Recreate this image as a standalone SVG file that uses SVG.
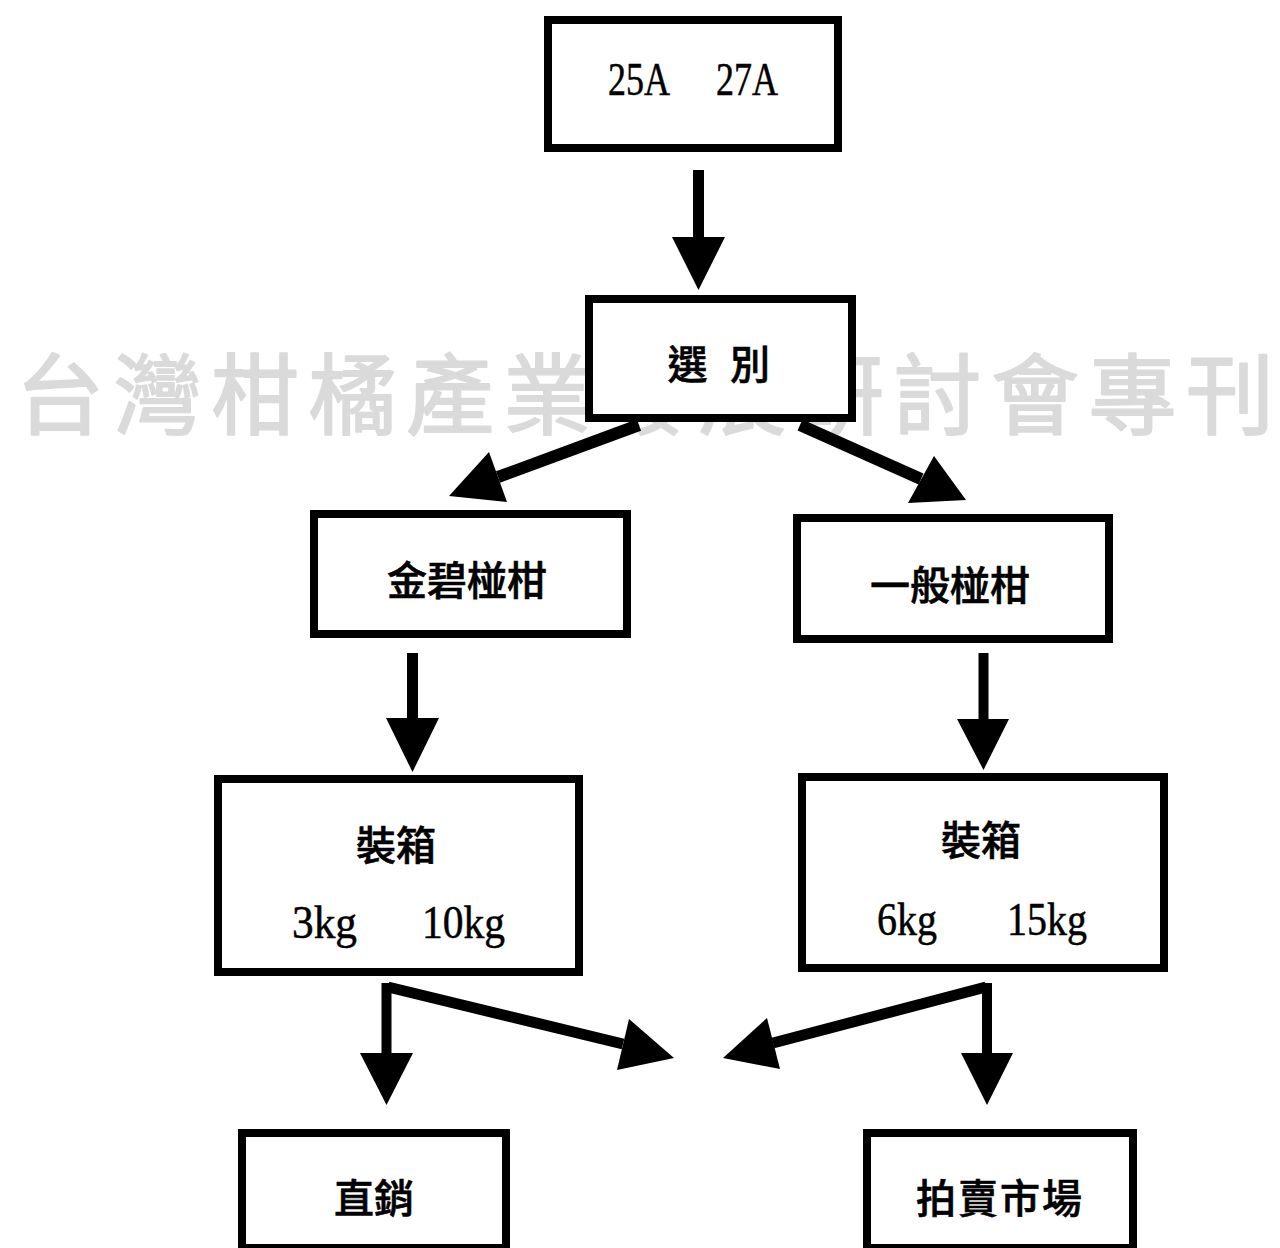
<svg xmlns="http://www.w3.org/2000/svg" width="1280" height="1248" viewBox="0 0 1280 1248">
<style>
.box{fill:#ffffff;stroke:#000000;stroke-width:8}
.cjk{font-family:"Noto Sans CJK TC","Noto Sans CJK SC",sans-serif;font-weight:500;font-size:40px;fill:#000;stroke:#000;stroke-width:0.6;text-anchor:middle;dominant-baseline:central}
.num{font-family:"Liberation Serif",serif;font-size:46px;fill:#000;stroke:#000;stroke-width:0.5}
.shaft{stroke:#000;fill:none;stroke-linecap:butt}
.head{fill:#000;stroke:none}
.wm{font-family:"Noto Sans CJK TC","Noto Sans CJK SC",sans-serif;font-size:88px;fill:#dadada;stroke:#dadada;stroke-width:2;stroke-linejoin:round;dominant-baseline:central}
</style>
<rect width="1280" height="1248" fill="#ffffff"/>
<g id="watermark">
<text class="wm" y="388" x="16 113.5 211 308.5 406 503.5 601 698.5 796 893.5 991 1088.5 1186">台灣柑橘產業發展研討會專刊</text>
</g>
<g id="connectors">
<line class="shaft" x1="698.5" y1="170" x2="698.5" y2="240" stroke-width="11"/>
<polygon class="head" points="672,237 725,237 698.5,290"/>
<line class="shaft" x1="639" y1="425" x2="498" y2="477" stroke-width="12"/>
<polygon class="head" points="489,452 507,502 449,496"/>
<line class="shaft" x1="800" y1="425" x2="921" y2="479" stroke-width="12"/>
<polygon class="head" points="934,456 908,503 966,500"/>
<line class="shaft" x1="412.5" y1="653" x2="412.5" y2="720" stroke-width="11"/>
<polygon class="head" points="386,718 439,718 412.5,772"/>
<line class="shaft" x1="983.5" y1="653" x2="983.5" y2="721" stroke-width="10"/>
<polygon class="head" points="957,719 1009,719 983.5,770"/>
<line class="shaft" x1="386.5" y1="983" x2="386.5" y2="1055" stroke-width="10"/>
<line class="shaft" x1="388" y1="987" x2="623" y2="1044" stroke-width="11"/>
<polygon class="head" points="360,1053 413,1053 386.5,1105"/>
<polygon class="head" points="629,1019 674,1058 617,1070"/>
<line class="shaft" x1="987" y1="983" x2="987" y2="1055" stroke-width="10"/>
<line class="shaft" x1="986" y1="987" x2="773" y2="1043" stroke-width="11"/>
<polygon class="head" points="961,1053 1013,1053 987,1105"/>
<polygon class="head" points="767,1018 723,1058 780,1069"/>
</g>
<g id="node-source">
<rect class="box" x="548" y="20" width="290" height="128"/>
<text class="num" x="608" y="95" font-size="47" textLength="62" lengthAdjust="spacingAndGlyphs">25A</text>
<text class="num" x="716" y="95" font-size="47" textLength="62" lengthAdjust="spacingAndGlyphs">27A</text>
</g>
<g id="node-sort">
<rect class="box" x="589" y="299" width="263" height="119"/>
<text class="cjk" x="687.5" y="362">選</text>
<text class="cjk" x="750" y="362">別</text>
</g>
<g id="node-jinbi">
<rect class="box" x="314" y="514" width="313" height="120"/>
<text class="cjk" x="467" y="578">金碧椪柑</text>
</g>
<g id="node-general">
<rect class="box" x="797" y="518" width="312" height="121"/>
<text class="cjk" x="950" y="583">一般椪柑</text>
</g>
<g id="node-pack-left">
<rect class="box" x="218" y="779" width="361" height="193"/>
<text class="cjk" x="396" y="843" font-size="38">裝箱</text>
<text class="num" x="292" y="938" textLength="65" lengthAdjust="spacingAndGlyphs">3kg</text>
<text class="num" x="422" y="938" textLength="83" lengthAdjust="spacingAndGlyphs">10kg</text>
</g>
<g id="node-pack-right">
<rect class="box" x="802" y="777" width="362" height="191"/>
<text class="cjk" x="981" y="838" font-size="38">裝箱</text>
<text class="num" x="877" y="935" textLength="60" lengthAdjust="spacingAndGlyphs">6kg</text>
<text class="num" x="1007" y="935" textLength="80" lengthAdjust="spacingAndGlyphs">15kg</text>
</g>
<g id="node-direct">
<rect class="box" x="242" y="1133" width="264" height="115"/>
<text class="cjk" x="374" y="1196">直銷</text>
</g>
<g id="node-auction">
<rect class="box" x="867" y="1133" width="266" height="115"/>
<text class="cjk" x="1000" y="1196" letter-spacing="2">拍賣市場</text>
</g>
</svg>
